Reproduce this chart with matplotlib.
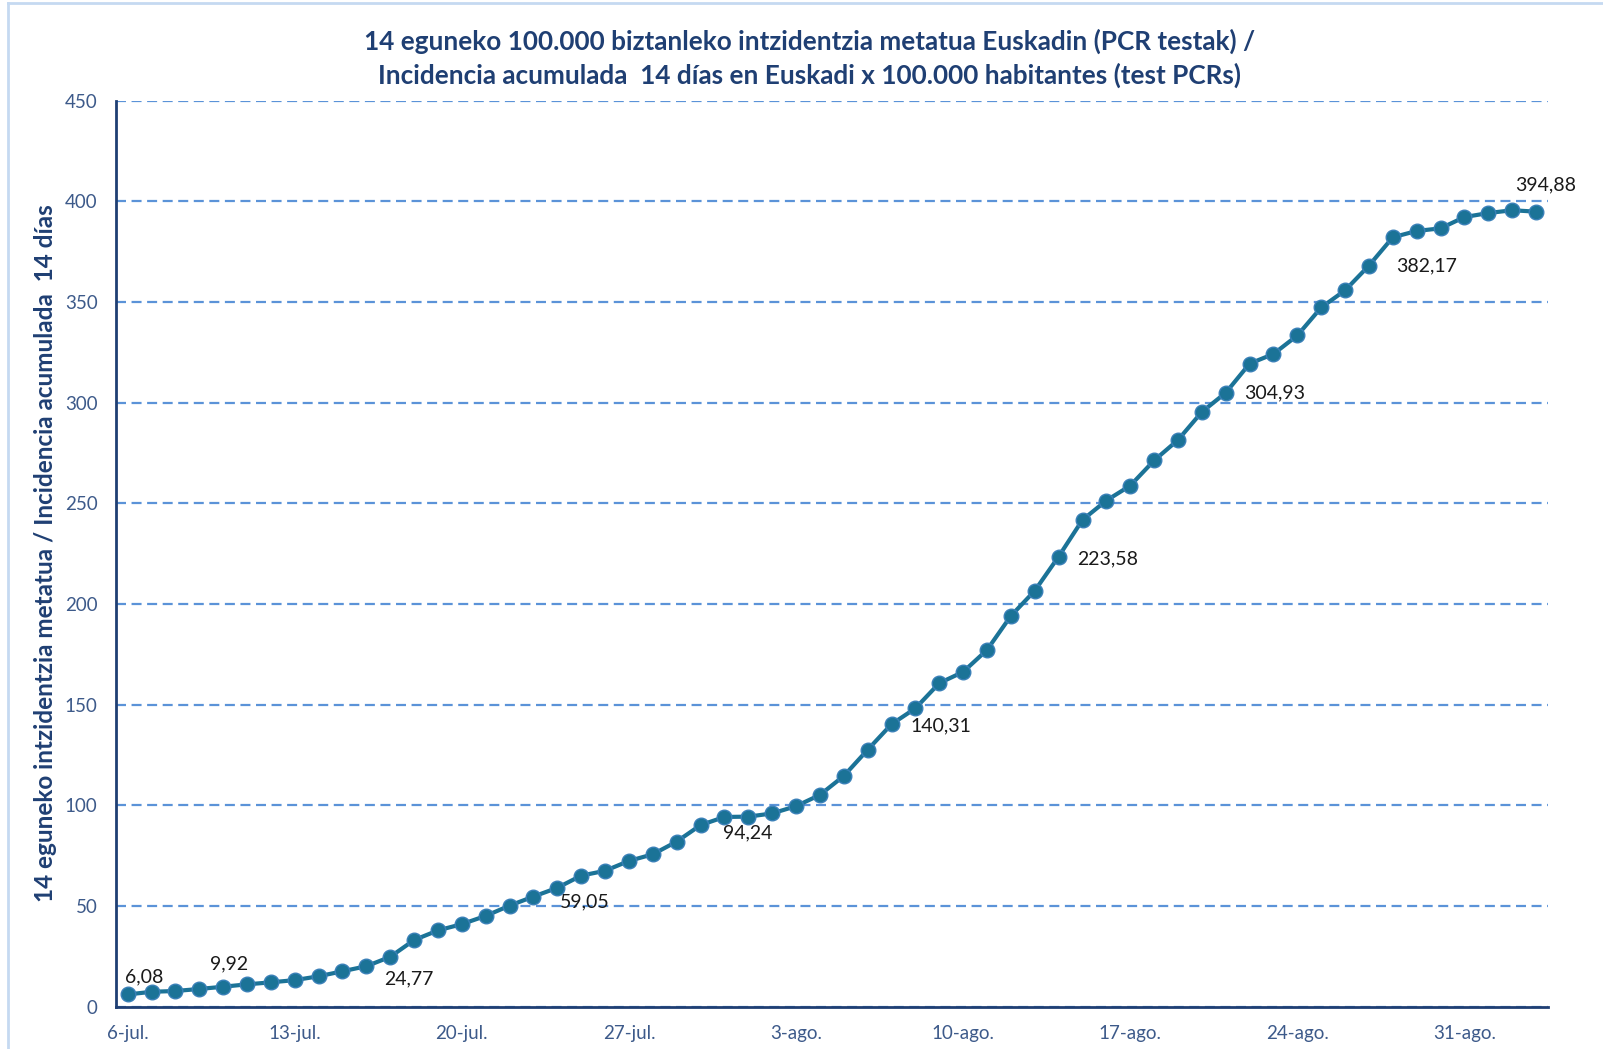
import matplotlib
matplotlib.use("Agg")
import matplotlib.pyplot as plt
from matplotlib.lines import Line2D

# ---- data ----
start_date = "2020-07-06"
n_days = 60
incidence = [6.08, 7.4, 7.8, 8.8, 9.92, 11.1, 12.1, 13.2, 15.1, 17.6,
             20.1, 24.77, 33.1, 37.9, 41.0, 45.1, 50.2, 54.7, 59.05, 65.1,
             67.5, 72.4, 75.7, 82.0, 90.2, 94.24, 94.4, 96.0, 99.6, 105.2,
             114.6, 127.6, 140.31, 148.2, 160.7, 166.3, 177.2, 194.1, 206.6, 223.58,
             241.8, 251.4, 258.8, 271.3, 281.5, 295.4, 304.93, 319.4, 324.2, 333.4,
             347.3, 355.8, 368.1, 382.17, 385.3, 386.6, 392.2, 394.2, 395.6, 394.88]
tick_positions = [0, 7, 14, 21, 28, 35, 42, 49, 56]
tick_labels = ["6-jul.", "13-jul.", "20-jul.", "27-jul.", "3-ago.",
               "10-ago.", "17-ago.", "24-ago.", "31-ago."]
labeled_idx = [0, 4, 11, 18, 25, 32, 39, 46, 53, 59]
y_ticks = [0, 50, 100, 150, 200, 250, 300, 350, 400, 450]
title = ("14 eguneko 100.000 biztanleko intzidentzia metatua Euskadin (PCR testak) /\n"
         "Incidencia acumulada  14 días en Euskadi x 100.000 habitantes (test PCRs)")
ylabel = "14 eguneko intzidentzia metatua / Incidencia acumulada  14 días"

# ---- style ----
label_offsets = [(17, 18), (6, 23), (19, -22), (27, -14), (23, -16),
                 (49, -2), (49, -2), (49, 0), (34, -29), (10, 27)]
FONT = ["Lato", "DejaVu Sans"]
plt.rcParams["font.family"] = FONT
navy = "#1F3F73"
tickc = "#3D5A8A"
linec = "#1B7397"

W, H = 1603, 1049
fig = plt.figure(figsize=(W / 100, H / 100), dpi=100)
ax = fig.add_axes([115.7 / W, 1 - 1006.7 / H, (1548 - 115.7) / W, (1006.7 - 100.7) / H])

x = list(range(len(incidence)))
ax.plot(x, incidence, color=linec, lw=3.0, marker="o", markersize=10.5,
        markerfacecolor=linec, markeredgecolor="#3A80B8", markeredgewidth=1.0,
        solid_joinstyle="round", zorder=3)

for i, (dx, dy) in zip(labeled_idx, label_offsets):
    ax.annotate(f"{incidence[i]:.2f}".replace(".", ","), (x[i], incidence[i]),
                xytext=(dx, dy), textcoords="offset pixels", ha="center", va="center",
                fontsize=14, color="#1a1a1a", zorder=4)

ax.set_xlim(-0.5, n_days - 0.5)
ax.set_ylim(0, 450)
ax.set_yticks(y_ticks)
ax.set_yticklabels([str(v) for v in y_ticks])
ax.set_xticks(tick_positions)
ax.set_xticklabels(tick_labels)
ax.tick_params(axis="both", length=0, colors=tickc, labelsize=13.5)
ax.tick_params(axis="y", pad=13)
ax.tick_params(axis="x", pad=13)

ax.grid(axis="y", color="#5B93D8", linestyle=(0, (4.5, 2.5)), linewidth=1.6)
ax.set_axisbelow(True)
for s in ["top", "right"]:
    ax.spines[s].set_visible(False)
for s in ["left", "bottom"]:
    ax.spines[s].set_color(navy)
    ax.spines[s].set_linewidth(2.0)

fig.text(0.505, 1 - 58 / H, title, ha="center", va="center", fontsize=18.8,
         fontweight="bold", color=navy, linespacing=1.4)
fig.text(46 / W, 1 - 553 / H, ylabel, ha="center", va="center", rotation=90,
         fontsize=17.5, fontweight="bold", color=navy)

# chart border
fig.add_artist(Line2D([8 / W, 1], [1 - 3 / H, 1 - 3 / H], color="#C5D9F1", lw=2,
                      transform=fig.transFigure))
fig.add_artist(Line2D([8 / W, 8 / W], [0, 1 - 3 / H], color="#C5D9F1", lw=2,
                      transform=fig.transFigure))

fig.savefig("out.png", dpi=100)
